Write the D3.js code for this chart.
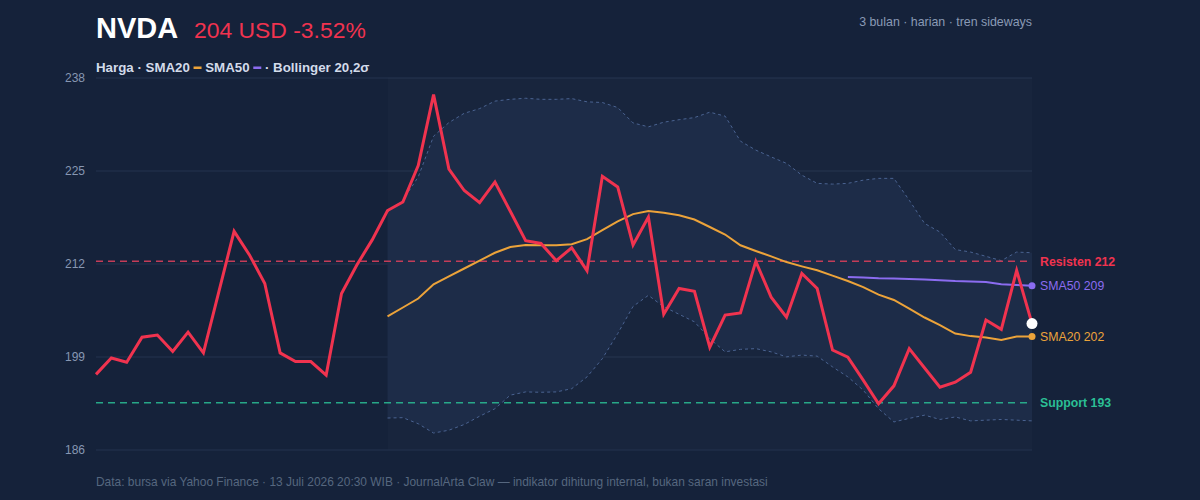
<!DOCTYPE html>
<html>
<head>
<meta charset="utf-8">
<title>NVDA</title>
<script src="https://cdn.jsdelivr.net/npm/d3@7/dist/d3.min.js"></script>
<style>
  html, body { margin: 0; padding: 0; background: #15223a; }
  svg { display: block; font-family: "Liberation Sans", Arial, sans-serif; }
</style>
</head>
<body>
<svg id="chart" width="1200" height="500"></svg>
<script>
// harga penutupan harian, 62 sesi
const price = [196.5, 198.8, 198.2, 201.7, 202.0, 199.7, 202.4, 199.5, 208.0, 216.5,
  213.2, 209.2, 199.5, 198.3, 198.3, 196.4, 207.8, 211.8, 215.3, 219.4,
  220.6, 225.7, 235.6, 225.2, 222.2, 220.5, 223.4, 219.3, 215.2, 214.8,
  212.4, 214.2, 211.0, 224.2, 222.7, 214.6, 218.5, 204.9, 208.5, 208.1,
  200.3, 204.8, 205.1, 212.3, 207.3, 204.5, 210.6, 208.5, 199.9, 198.9,
  195.7, 192.4, 194.9, 200.1, 197.4, 194.7, 195.4, 196.8, 204.1, 202.8,
  211.03, 203.6];
// indikator mulai dari sesi ke-20 / ke-50
const sma20Start = 19;
const sma20 = [204.6, 205.85, 207.1, 209.1, 210.2, 211.3, 212.4, 213.5, 214.3, 214.6,
  214.55, 214.55, 214.7, 215.4, 216.65, 217.9, 218.9, 219.35, 219.1, 218.75,
  218.15, 217.1, 216.05, 214.55, 213.75, 213.0, 212.2, 211.6, 211.05, 210.3,
  209.55, 208.7, 207.65, 206.9, 205.7, 204.45, 203.4, 202.2, 201.85, 201.65,
  201.3, 201.8, 201.8];
const bbUpper = [219.2, 220.85, 224.1, 229.8, 231.7, 233.0, 233.65, 234.7, 234.95, 235.1,
  234.95, 234.95, 235.05, 234.6, 234.5, 233.8, 231.65, 231.1, 231.75, 232.1,
  232.4, 233.15, 232.6, 229.1, 227.85, 226.9, 226.0, 224.35, 223.2, 223.1,
  223.2, 223.65, 223.9, 223.9, 220.85, 217.6, 216.4, 213.95, 213.6, 213.0,
  212.4, 213.6, 213.5];
const bbLower = [190.4, 190.45, 189.6, 188.3, 188.7, 189.5, 190.65, 191.7, 193.6, 194.05,
  194.0, 194.05, 194.5, 196.15, 198.7, 202.2, 206.0, 207.55, 205.95, 204.9,
  203.85, 201.5, 199.65, 200.0, 200.1, 199.65, 198.95, 199.2, 199.05, 197.55,
  196.15, 194.3, 191.7, 189.85, 190.35, 190.8, 190.2, 190.55, 190.0, 190.1,
  190.2, 190.1, 190.0];
const sma50Start = 49;
const sma50 = [210.1, 210.05, 209.95, 209.9, 209.85, 209.75, 209.65, 209.55, 209.5, 209.4,
  209.1, 209.0, 208.9];
const yTicks = [186, 199, 212, 225, 238];
const resistance = 212.3;
const support = 192.55;

const C = {
  bg: "#15223a", grid: "#1f2e48", tick: "#8797b2", price: "#f0334f",
  sma20: "#eca33a", sma50: "#8b6cf0", band: "#1d2c49", bandLine: "#4a6391",
  resist: "#c43c58", support: "#2bbf95", text: "#d3dbea", muted: "#8a9ab5", foot: "#56677f"
};

const svg = d3.select("#chart");
const plotL = 96, plotR = 1032, plotT = 77.5, plotB = 449.5;

const x = d3.scaleLinear().domain([0, price.length - 1]).range([plotL, plotR]);
const y = d3.scaleLinear().domain([186, 238]).range([plotB, plotT]);

svg.append("rect").attr("width", 1200).attr("height", 500).attr("fill", C.bg);

// grid + y axis
const yAxis = d3.axisLeft(y).tickValues(yTicks).tickSize(-(plotR - plotL)).tickPadding(11);
const gy = svg.append("g").attr("transform", `translate(${plotL},0)`).call(yAxis);
gy.select(".domain").remove();
gy.selectAll(".tick line").attr("stroke", C.grid).attr("stroke-width", 1.5);
gy.selectAll(".tick text").attr("fill", C.tick).attr("font-size", 12)
  .attr("font-family", "'Liberation Sans', Arial, sans-serif");

// Bollinger window
const bandIdx = d3.range(sma20Start, price.length);
svg.append("rect")
  .attr("x", x(sma20Start)).attr("y", plotT)
  .attr("width", x(price.length - 1) - x(sma20Start)).attr("height", plotB - plotT)
  .attr("fill", "#ffffff").attr("opacity", 0.015);

svg.append("path")
  .datum(bandIdx)
  .attr("fill", C.band).attr("opacity", 0.95)
  .attr("d", d3.area()
    .x(i => x(i))
    .y0(i => y(bbLower[i - sma20Start]))
    .y1(i => y(bbUpper[i - sma20Start])));

[bbUpper, bbLower].forEach(arr => {
  svg.append("path")
    .datum(arr)
    .attr("fill", "none").attr("stroke", C.bandLine).attr("stroke-width", 1)
    .attr("stroke-dasharray", "3,3")
    .attr("d", d3.line().x((d, k) => x(k + sma20Start)).y(d => y(d)));
});

// support / resistance
svg.append("line")
  .attr("x1", plotL).attr("x2", plotR).attr("y1", y(resistance)).attr("y2", y(resistance))
  .attr("stroke", C.resist).attr("stroke-width", 1.5).attr("stroke-dasharray", "7,5");
svg.append("line")
  .attr("x1", plotL).attr("x2", plotR).attr("y1", y(support)).attr("y2", y(support))
  .attr("stroke", C.support).attr("stroke-width", 1.5).attr("stroke-dasharray", "7,5")
  .attr("opacity", 0.85);

// moving averages
svg.append("path")
  .datum(sma20)
  .attr("fill", "none").attr("stroke", C.sma20).attr("stroke-width", 2)
  .attr("d", d3.line().x((d, k) => x(k + sma20Start)).y(d => y(d)));
svg.append("path")
  .datum(sma50)
  .attr("fill", "none").attr("stroke", C.sma50).attr("stroke-width", 2)
  .attr("d", d3.line().x((d, k) => x(k + sma50Start)).y(d => y(d)));

// price
svg.append("path")
  .datum(price)
  .attr("fill", "none").attr("stroke", C.price).attr("stroke-width", 3)
  .attr("stroke-linejoin", "miter")
  .attr("d", d3.line().x((d, i) => x(i)).y(d => y(d)));

const last = price.length - 1;
svg.append("circle").attr("cx", x(last)).attr("cy", y(sma50[sma50.length - 1])).attr("r", 3.5).attr("fill", C.sma50);
svg.append("circle").attr("cx", x(last)).attr("cy", y(sma20[sma20.length - 1])).attr("r", 3.5).attr("fill", C.sma20);
svg.append("circle").attr("cx", x(last)).attr("cy", y(price[last])).attr("r", 5.5).attr("fill", "#ffffff");

// right labels
const lab = (v, txt, col, bold) => svg.append("text")
  .attr("x", plotR + 8).attr("y", y(v)).attr("dy", "0.35em")
  .attr("fill", col).attr("font-size", 12.3).attr("font-weight", bold ? "bold" : "normal")
  .text(txt);
lab(resistance, "Resisten " + Math.round(resistance), C.price, true);
lab(sma50[sma50.length - 1], "SMA50 " + Math.round(sma50[sma50.length - 1]), C.sma50, false);
lab(sma20[sma20.length - 1], "SMA20 " + Math.round(sma20[sma20.length - 1]), C.sma20, false);
lab(support, "Support " + Math.round(support), C.support, true);

// title
const chg = (price[last] / price[last - 1] - 1) * 100;
svg.append("text").attr("x", plotL).attr("y", 38).attr("fill", "#ffffff")
  .attr("font-size", 29).attr("font-weight", "bold").text("NVDA");
svg.append("text").attr("x", 194).attr("y", 38).attr("fill", C.price)
  .attr("font-size", 22.9).text(Math.round(price[last]) + " USD " + chg.toFixed(2) + "%");
svg.append("text").attr("x", plotR).attr("y", 26).attr("text-anchor", "end")
  .attr("fill", C.muted).attr("font-size", 12.4).text("3 bulan · harian · tren sideways");

// legend
const legend = svg.append("g").attr("transform", "translate(96,72)");
const parts = [
  { t: "Harga · SMA20 " }, { swatch: C.sma20 }, { t: " SMA50 " }, { swatch: C.sma50 }, { t: " · Bollinger 20,2σ" }
];
let lx = 0;
parts.forEach(p => {
  if (p.swatch) {
    legend.append("rect").attr("x", lx).attr("y", -5.5).attr("width", 8).attr("height", 2.5).attr("fill", p.swatch);
    lx += 8;
  } else {
    const t = legend.append("text").attr("x", lx).attr("y", 0).attr("fill", C.text)
      .attr("font-size", 13.3).attr("font-weight", "bold")
      .style("white-space", "pre").text(p.t);
    lx += t.node().getComputedTextLength();
  }
});

// footer
svg.append("text").attr("x", plotL).attr("y", 486).attr("fill", C.foot).attr("font-size", 11.95)
  .text("Data: bursa via Yahoo Finance · 13 Juli 2026 20:30 WIB · JournalArta Claw — indikator dihitung internal, bukan saran investasi");
</script>
</body>
</html>
